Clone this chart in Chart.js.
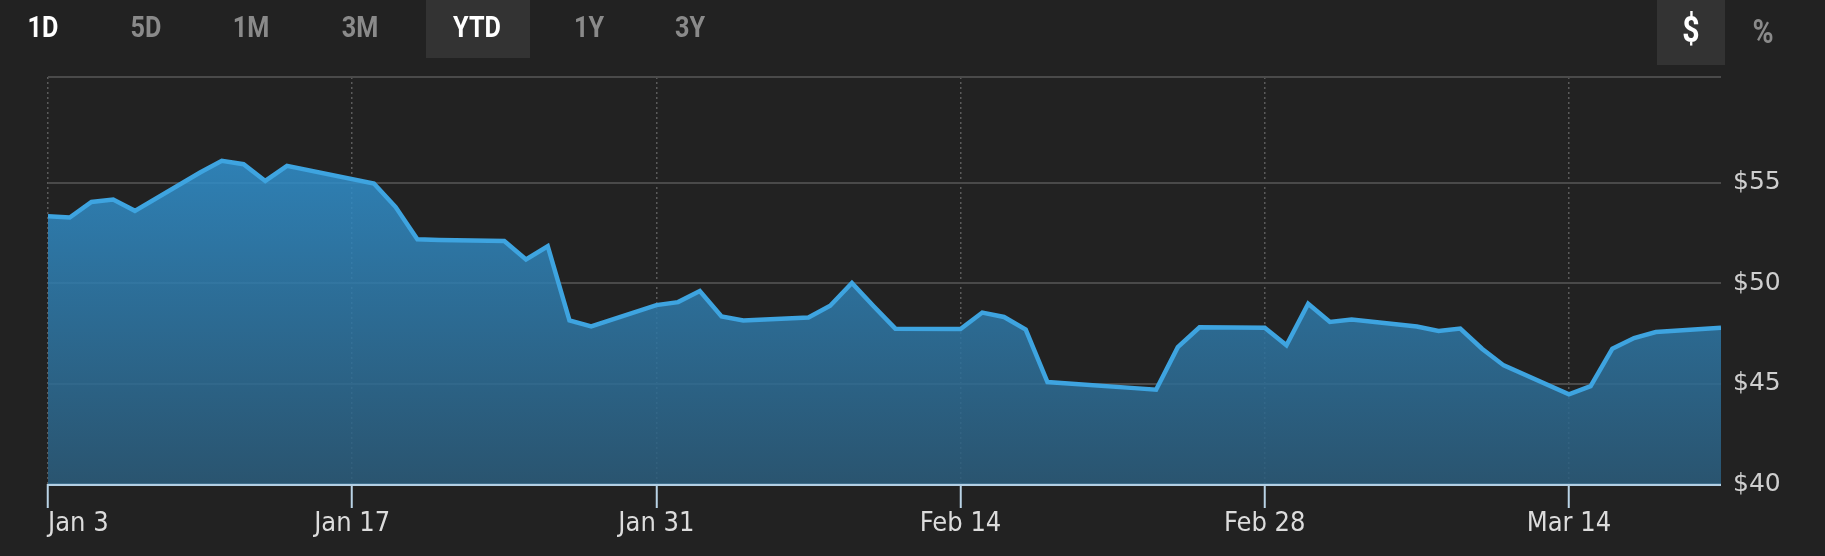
<!DOCTYPE html>
<html>
<head>
<meta charset="utf-8">
<script src="https://cdn.jsdelivr.net/npm/chart.js@4.4.1/dist/chart.umd.min.js"></script>
<style>
html,body{margin:0;padding:0;background:#222;}
#wrap{position:relative;width:1825px;height:556px;background:#222;overflow:hidden;}
#c{position:absolute;left:0;top:0;}
.box{position:absolute;background:#333;}
.btn{position:absolute;top:27px;transform:translate(-50%,-50%) scaleX(0.84);font-family:Roboto,"Liberation Sans",sans-serif;font-weight:bold;font-size:30px;color:#8a8a8a;white-space:nowrap;line-height:1;}
.on{color:#fff;}
</style>
</head>
<body>
<div id="wrap">
  <div class="box" style="left:426px;top:0;width:104px;height:58px"></div>
  <div class="box" style="left:1657px;top:0;width:68px;height:65px"></div>
  <canvas id="c" width="1825" height="556"></canvas>
  <div class="btn on" style="left:43px">1D</div>
  <div class="btn" style="left:146px">5D</div>
  <div class="btn" style="left:251px">1M</div>
  <div class="btn" style="left:360px">3M</div>
  <div class="btn on" style="left:477px">YTD</div>
  <div class="btn" style="left:589px">1Y</div>
  <div class="btn" style="left:690px">3Y</div>
  <div class="btn on" style="left:1691px;top:30px;font-size:36px">$</div>
  <div class="btn" style="left:1763px;top:31px;font-size:34px">%</div>
</div>
<script>
// ---- data ----
const dates = [
  '2022-01-03','2022-01-04','2022-01-05','2022-01-06','2022-01-07',
  '2022-01-10','2022-01-11','2022-01-12','2022-01-13','2022-01-14',
  '2022-01-18','2022-01-19','2022-01-20','2022-01-21',
  '2022-01-24','2022-01-25','2022-01-26','2022-01-27','2022-01-28',
  '2022-01-31','2022-02-01','2022-02-02','2022-02-03','2022-02-04',
  '2022-02-07','2022-02-08','2022-02-09','2022-02-10','2022-02-11',
  '2022-02-14','2022-02-15','2022-02-16','2022-02-17','2022-02-18',
  '2022-02-22','2022-02-23','2022-02-24','2022-02-25',
  '2022-02-28','2022-03-01','2022-03-02','2022-03-03','2022-03-04',
  '2022-03-07','2022-03-08','2022-03-09','2022-03-10','2022-03-11',
  '2022-03-14','2022-03-15','2022-03-16','2022-03-17','2022-03-18',
  '2022-03-21'
];
const prices = [
  53.32, 53.26, 54.03, 54.15, 53.59,
  55.50, 56.08, 55.91, 55.08, 55.83,
  54.95, 53.78, 52.18, 52.14,
  52.09, 51.17, 51.83, 48.14, 47.84,
  48.90, 49.05, 49.60, 48.34, 48.14,
  48.28, 48.87, 50.00, 48.84, 47.73,
  47.71, 48.53, 48.31, 47.68, 45.07,
  44.77, 44.69, 46.81, 47.80,
  47.78, 46.90, 48.97, 48.06, 48.18,
  47.84, 47.61, 47.73, 46.73, 45.90,
  44.46, 44.87, 46.73, 47.26, 47.56,
  47.78
];
const xTickDays = [0, 14, 28, 42, 56, 70];
const xTickLabels = ['Jan 3', 'Jan 17', 'Jan 31', 'Feb 14', 'Feb 28', 'Mar 14'];
const yTickValues = [40, 45, 50, 55];
const yTickLabels = ['$40', '$45', '$50', '$55'];
const yMin = 40, yMax = 60.25;

// ---- build ----
const t0 = Date.UTC(2022, 0, 3);
const dayOf = s => { const p = s.split('-').map(Number); return Math.round((Date.UTC(p[0], p[1]-1, p[2]) - t0) / 86400000); };
const points = dates.map((d, i) => ({ x: dayOf(d), y: prices[i] }));
const xEnd = points[points.length - 1].x;

const fillGrad = (ctx) => {
  const chart = ctx.chart; const area = chart.chartArea;
  if (!area) return 'rgba(46,125,176,0.85)';
  const g = chart.ctx.createLinearGradient(0, area.top, 0, area.bottom);
  g.addColorStop(0, 'rgba(50,158,227,0.85)');
  g.addColorStop(1, 'rgba(43,93,125,0.85)');
  return g;
};

new Chart(document.getElementById('c'), {
  type: 'line',
  data: {
    datasets: [{
      data: points,
      borderColor: '#3ea4e0',
      borderWidth: 4.5,
      backgroundColor: fillGrad,
      fill: 'start',
      pointRadius: 0,
      tension: 0
    }]
  },
  options: {
    responsive: false,
    animation: false,
    layout: { padding: { top: 77, left: 48, right: 0, bottom: 0 } },
    plugins: { legend: { display: false }, tooltip: { enabled: false } },
    scales: {
      x: {
        type: 'linear',
        min: 0,
        max: xEnd,
        afterBuildTicks: s => { s.ticks = xTickDays.concat([xEnd]).map(v => ({ value: v })); },
        afterFit: s => { s.height = 72; },
        grid: {
          color: c => (c.tick && c.tick.value === xEnd) ? 'rgba(0,0,0,0)' : '#5a5a5a',
          lineWidth: 1.5,
          drawTicks: true,
          tickLength: 24,
          tickWidth: 2,
          tickColor: c => (c.tick && c.tick.value === xEnd) ? 'rgba(0,0,0,0)' : '#b9d3e6',
          tickBorderDash: []
        },
        border: { display: false, dash: [2, 3] },
        ticks: {
          align: 'inner',
          padding: 0,
          maxRotation: 0,
          autoSkip: false,
          color: '#dcdcdc',
          font: { family: "'Liberation Sans Narrow','DejaVu Sans Condensed','Liberation Sans',sans-serif", size: 27 },
          callback: v => { const i = xTickDays.indexOf(v); return i >= 0 ? xTickLabels[i] : ''; }
        }
      },
      y: {
        position: 'right',
        min: yMin,
        max: yMax,
        afterBuildTicks: s => { s.ticks = yTickValues.concat([yMax]).map(v => ({ value: v })); },
        afterFit: s => { s.width = 104; },
        grid: {
          color: c => (c.tick && c.tick.value === yMin) ? '#b3cfe4' : '#4a4a4a',
          lineWidth: c => (c.tick && c.tick.value === yMin) ? 3 : 2,
          drawTicks: false
        },
        border: { display: false },
        ticks: {
          padding: 12,
          color: '#cfcfcf',
          font: { family: "'DejaVu Sans',sans-serif", size: 25 },
          callback: v => { const i = yTickValues.indexOf(v); return i >= 0 ? yTickLabels[i] : ''; }
        }
      }
    }
  }
});
</script>
</body>
</html>
